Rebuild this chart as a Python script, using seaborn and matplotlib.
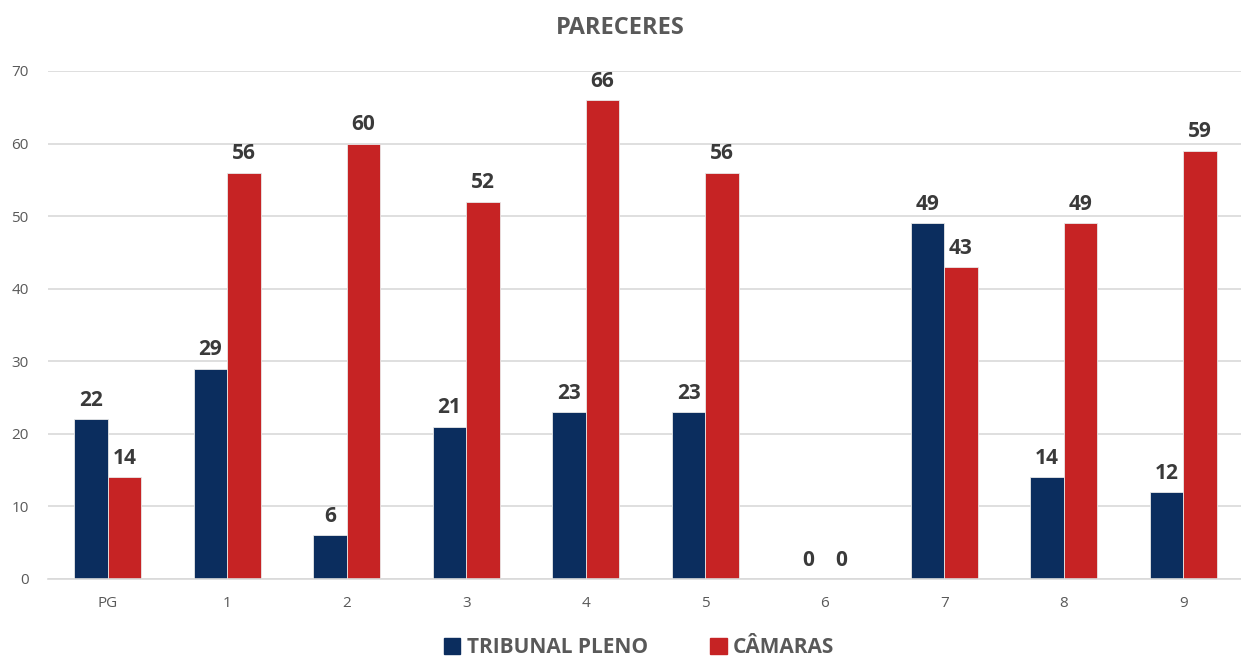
import pandas as pd
import matplotlib.pyplot as plt
import seaborn as sns

categories = ["PG", "1", "2", "3", "4", "5", "6", "7", "8", "9"]
tribunal_pleno = [22, 29, 6, 21, 23, 23, 0, 49, 14, 12]
camaras = [14, 56, 60, 52, 66, 56, 0, 43, 49, 59]
series_names = ["TRIBUNAL PLENO", "CÂMARAS"]
colors = ["#0B2D5E", "#C62324"]

df = pd.DataFrame({
    "cat": categories * 2,
    "serie": [series_names[0]] * len(categories) + [series_names[1]] * len(categories),
    "valor": tribunal_pleno + camaras,
})

sns.set_style("white")
plt.rcParams["font.family"] = ["Open Sans", "DejaVu Sans"]

fig = plt.figure(figsize=(12.41, 6.59), dpi=100)
ax = fig.add_axes([48 / 1241, 1 - 579 / 659, 1195 / 1241, (579 - 71) / 659])

sns.barplot(data=df, x="cat", y="valor", hue="serie", palette=colors,
            width=0.56, gap=0, ax=ax, legend=False, saturation=1,
            edgecolor="#e8e8e8", linewidth=0.6)

for cont in ax.containers:
    ax.bar_label(cont, fmt="%d", padding=6, fontsize=15, fontweight="bold", color="#3a3a3a")

ax.set_xlim(-0.5, 9.5)
ax.set_ylim(0, 70)
ax.set_yticks(range(0, 71, 10))
ax.yaxis.grid(True, color="#d9d9d9", linewidth=1.2)
ax.set_axisbelow(True)
for s in ["top", "right", "left"]:
    ax.spines[s].set_visible(False)
ax.spines["bottom"].set_color("#d9d9d9")
ax.spines["bottom"].set_linewidth(1.2)
ax.tick_params(axis="both", length=0, labelsize=11, colors="#595959", pad=12)
ax.tick_params(axis="y", pad=14)
ax.set_xlabel("")
ax.set_ylabel("")

fig.text(0.5, 0.957, "PARECERES", ha="center", va="center", fontsize=17,
         fontweight="bold", color="#595959")

handles = [plt.Rectangle((0, 0), 1, 1, color=c) for c in colors]
fig.legend(handles, series_names, loc="center", bbox_to_anchor=(0.515, 0.017),
           ncol=2, frameon=False, handlelength=0.8, handleheight=0.8,
           handletextpad=0.3, columnspacing=3, prop={"weight": "bold", "size": 15})
for t in fig.legends[0].get_texts():
    t.set_color("#595959")

fig.savefig("out.png", dpi=100)
